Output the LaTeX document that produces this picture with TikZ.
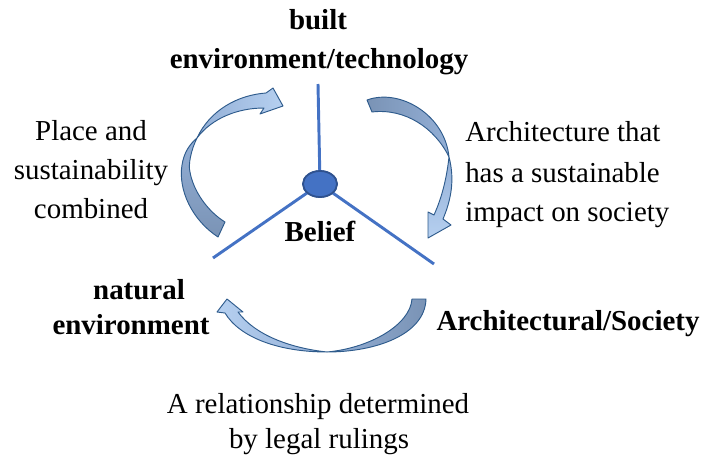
\documentclass[tikz,border=0pt]{standalone}
\usepackage{fontspec}
\setmainfont{Liberation Serif}
\usetikzlibrary{shapes.geometric}

\definecolor{spoke}{HTML}{4472C4}
\definecolor{hubedge}{HTML}{2F528F}
\definecolor{arrowedge}{HTML}{2E5B8C}
\definecolor{arrdark}{HTML}{7A93B5}
\definecolor{arrmid}{HTML}{93AFD6}
\definecolor{arrlight}{HTML}{B6D0F0}

\tikzset{
  spokeline/.style={draw=spoke, line width=2.2pt},
  hubnode/.style={ellipse, draw=hubedge, line width=1.3pt, fill=spoke,
    minimum width=25.5pt, minimum height=19.5pt, inner sep=0pt},
  ribbon/.style={draw=arrowedge, line width=0.7pt, line join=round},
  txt/.style={font=\fontsize{21.7}{26}\selectfont, inner sep=0pt, anchor=base},
  btxt/.style={txt, font=\fontsize{21.7}{26}\selectfont\bfseries},
}

\begin{document}
\begin{tikzpicture}[x=0.75pt,y=-0.75pt]
\useasboundingbox (0,0) rectangle (703,457);

% spokes from the hub
\node[hubnode] (hub) at (320,184) {};
\coordinate (ntop) at (318,84);
\coordinate (nleft) at (213,258);
\coordinate (nright) at (434,264);
\draw[spokeline] (hub.center) -- (ntop);
\draw[spokeline] (hub.center) -- (nleft);
\draw[spokeline] (hub.center) -- (nright);
\node[hubnode] at (hub) {};

% curved arrow, upper left (rising towards the top label)
\path[ribbon, top color=arrmid, bottom color=arrdark]
  (218,237) .. controls (192,220) and (178,190) .. (182,165)
  .. controls (184,152) and (190,144) .. (197,138)
  .. controls (191,150) and (188,165) .. (190,172)
  .. controls (193,190) and (207,211) .. (225,222) -- cycle;
\path[ribbon, left color=arrmid, right color=arrlight]
  (197,138) .. controls (210,110) and (238,95) .. (266,93)
  -- (273,88) -- (283,106) -- (260,114) -- (264,108)
  .. controls (238,108) and (212,118) .. (197,138) -- cycle;

% curved arrow, upper right (descending to the right)
\path[ribbon, left color=arrdark, right color=arrmid]
  (367,100) .. controls (400,88) and (445,115) .. (449,157)
  .. controls (435,128) and (405,108) .. (372,112) -- cycle;
\path[ribbon, top color=arrmid, bottom color=arrlight]
  (449,157) .. controls (455,180) and (451,200) .. (443,219)
  -- (451,225) -- (428,238) -- (428,212) -- (434,215)
  .. controls (443,195) and (447,175) .. (449,157) -- cycle;

% curved arrow, bottom (from right to left)
\path[ribbon, right color=arrdark, left color=arrmid]
  (327,352) .. controls (375,352) and (425,335) .. (426,299)
  -- (412,299) .. controls (410,325) and (370,348) .. (327,352) -- cycle;
\path[ribbon, right color=arrmid, left color=arrlight]
  (327,352) .. controls (280,352) and (240,338) .. (225,313)
  -- (217,312) -- (227,299) -- (243,312) -- (238,312)
  .. controls (255,335) and (290,348) .. (327,352) -- cycle;

% labels
\node[btxt] (tbuilt) at (318,29) {built};
\node[btxt] (tenv) at (319,68) {environment/technology};
\node[btxt] (tbelief) at (320,241) {Belief};
\node[btxt] (tnat) at (139,299) {natural};
\node[btxt] (tnatenv) at (131,334) {environment};
\node[btxt] (tsoc) at (568,330) {Architectural/Society};

\node[txt] (pl1) at (91,140) {Place and};
\node[txt] (pl2) at (91,179) {sustainability};
\node[txt] (pl3) at (91,218) {combined};

\node[txt, anchor=base west] (ar1) at (465,141) {Architecture that};
\node[txt, anchor=base west] (ar2) at (465,182) {has a sustainable};
\node[txt, anchor=base west] (ar3) at (465,221) {impact on society};

\node[txt] (rel1) at (318,413) {A relationship determined};
\node[txt] (rel2) at (319,448) {by legal rulings};
\end{tikzpicture}
\end{document}
